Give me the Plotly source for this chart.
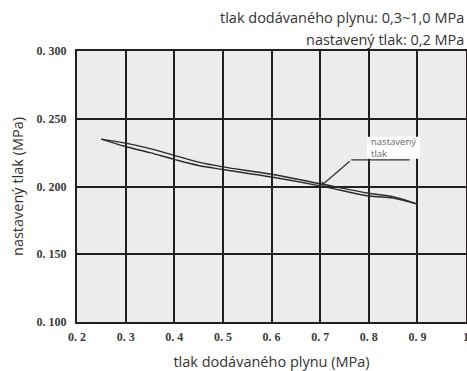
import plotly.graph_objects as go

# pressure regulation curves (hysteresis: rising / falling supply pressure)
supply_up = [0.25, 0.30, 0.35, 0.40, 0.45, 0.50, 0.60, 0.70, 0.80, 0.85, 0.90]
set_up = [0.2350, 0.2320, 0.2280, 0.2230, 0.2180, 0.2145, 0.2090, 0.2020, 0.1950, 0.1925, 0.1870]
supply_down = [0.25, 0.30, 0.35, 0.40, 0.45, 0.50, 0.60, 0.70, 0.80, 0.85, 0.90]
set_down = [0.2350, 0.2295, 0.2250, 0.2200, 0.2155, 0.2125, 0.2070, 0.2005, 0.1930, 0.1915, 0.1870]

x_ticks = [0.2, 0.3, 0.4, 0.5, 0.6, 0.7, 0.8, 0.9, 1.0]
x_labels = ['0. 2', '0. 3', '0. 4', '0. 5', '0. 6', '0. 7', '0. 8', '0. 9', '1']
y_ticks = [0.10, 0.15, 0.20, 0.25, 0.30]
y_labels = ['0. 100', '0. 150', '0. 200', '0. 250', '0. 300']

line_col = '#2b2b2b'
grid_col = '#231f20'
tick_font = dict(family='Liberation Serif', size=12, color='#3a3a3a', weight='bold')
sans = 'Open Sans'
title_font = dict(family=sans, size=14.5, color='#333333')

fig = go.Figure()
fig.add_trace(go.Scatter(x=supply_up, y=set_up, mode='lines',
                         line=dict(color=line_col, width=1.4, shape='spline'),
                         showlegend=False, hoverinfo='skip'))
fig.add_trace(go.Scatter(x=supply_down, y=set_down, mode='lines',
                         line=dict(color=line_col, width=1.4, shape='spline'),
                         showlegend=False, hoverinfo='skip'))

# callout "nastavený tlak": white label box, leader line and arrow
fig.add_shape(type='rect', x0=0.797, x1=0.905, y0=0.2205, y1=0.2368,
              fillcolor='white', line=dict(width=0), layer='above')
fig.add_shape(type='line', x0=0.764, y0=0.2196, x1=0.884, y1=0.2196,
              line=dict(color='#333333', width=1.3))
fig.add_annotation(x=0.703, y=0.2008, ax=0.764, ay=0.2196,
                   xref='x', yref='y', axref='x', ayref='y',
                   showarrow=True, arrowhead=1, arrowsize=0.8, arrowwidth=1.3,
                   arrowcolor='#333333', text='')
fig.add_annotation(x=0.800, y=0.2287, xref='x', yref='y', xanchor='left', yanchor='middle',
                   text='nastavený<br>tlak', showarrow=False, align='left',
                   font=dict(family=sans, size=9.5, color='#666666'))

fig.add_annotation(x=1.0, y=1.122, xref='paper', yref='paper', xanchor='right', yanchor='middle',
                   text='tlak dodávaného plynu: 0,3~1,0 MPa', showarrow=False,
                   font=title_font)
fig.add_annotation(x=1.0, y=1.044, xref='paper', yref='paper', xanchor='right', yanchor='middle',
                   text='nastavený tlak: 0,2 MPa', showarrow=False,
                   font=title_font)

fig.update_layout(
    width=467, height=371,
    margin=dict(l=77, r=1, t=51, b=49),
    paper_bgcolor='white',
    plot_bgcolor='#ececec',
    xaxis=dict(range=[0.2, 1.0], tickvals=x_ticks, ticktext=x_labels,
               showgrid=True, gridcolor=grid_col, gridwidth=1.5,
               showline=True, linecolor=grid_col, linewidth=2, mirror=True,
               zeroline=False, ticks='', tickfont=tick_font, ticklabelstandoff=3,
               automargin=False, ticklabeloverflow='allow',
               title=dict(text='tlak dodávaného plynu (MPa)', standoff=21,
                          font=title_font)),
    yaxis=dict(range=[0.1, 0.3], tickvals=y_ticks, ticktext=y_labels,
               showgrid=True, gridcolor=grid_col, gridwidth=1.5,
               showline=True, linecolor=grid_col, linewidth=2, mirror=True,
               zeroline=False, ticks='', tickfont=tick_font, ticklabelstandoff=6,
               automargin=False,
               title=dict(text='nastavený tlak (MPa)', standoff=10,
                          font=title_font)),
)

fig.write_html("out.html", config={'displayModeBar': False},
               post_script="document.body.style.margin='0';")
